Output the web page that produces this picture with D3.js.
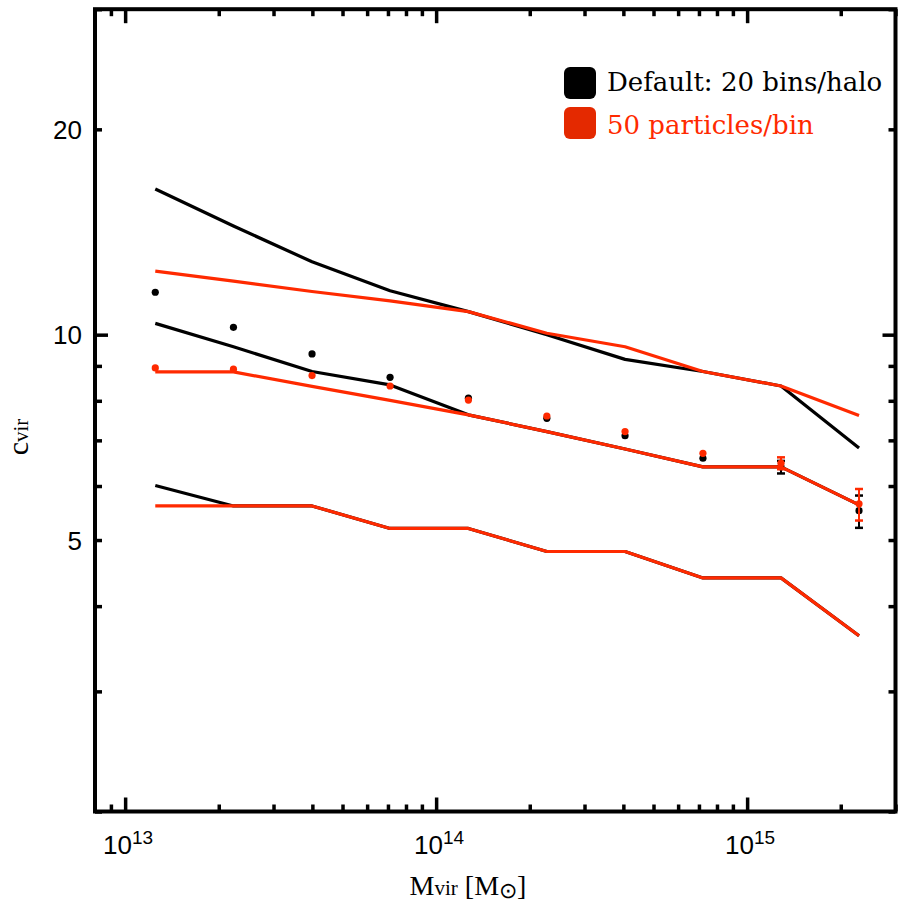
<!DOCTYPE html>
<html>
<head>
<meta charset="utf-8">
<script src="https://cdn.jsdelivr.net/npm/d3@7"></script>
<style>
  html, body { margin: 0; padding: 0; background: #fff; }
  svg { display: block; }
</style>
</head>
<body>
<svg id="chart" width="899" height="903"></svg>
<script>
// ---------------- data ----------------
const mass = [1.25e13, 2.23e13, 3.99e13, 7.11e13, 1.27e14, 2.27e14, 4.05e14, 7.21e14, 1.285e15, 2.29e15];

const defaultUpper   = [16.35, 14.43, 12.79, 11.60, 10.81, 10.00, 9.20, 8.83, 8.41, 6.82];
const defaultMid     = [10.39, 9.60, 8.83, 8.44, 7.63, 7.21, 6.80, 6.40, 6.40, 5.63];
const defaultLower   = [6.01, 5.61, 5.61, 5.20, 5.20, 4.81, 4.81, 4.40, 4.40, 3.62];
const defaultMean    = [11.54, 10.25, 9.37, 8.66, 8.07, 7.54, 7.11, 6.59, 6.40, 5.52];
const defaultErrLo   = [null, null, null, null, null, null, null, null, 6.26, 5.21];
const defaultErrHi   = [null, null, null, null, null, null, null, null, 6.53, 5.81];

const particlesUpper = [12.39, 11.98, 11.57, 11.21, 10.81, 10.05, 9.60, 8.83, 8.41, 7.61];
const particlesMid   = [8.82, 8.82, 8.40, 8.01, 7.63, 7.21, 6.80, 6.40, 6.40, 5.63];
const particlesLower = [5.61, 5.61, 5.61, 5.20, 5.20, 4.81, 4.81, 4.40, 4.40, 3.62];
const particlesMean  = [8.94, 8.90, 8.71, 8.41, 8.02, 7.60, 7.21, 6.70, 6.48, 5.65];
const particlesErrLo = [null, null, null, null, null, null, null, null, 6.35, 5.34];
const particlesErrHi = [null, null, null, null, null, null, null, null, 6.61, 5.94];

const xMajorTicks = [1e13, 1e14, 1e15];
const xMajorExp   = ["13", "14", "15"];
const xMinorTicks = [9e12, 2e13, 3e13, 4e13, 5e13, 6e13, 7e13, 8e13, 9e13,
                     2e14, 3e14, 4e14, 5e14, 6e14, 7e14, 8e14, 9e14, 2e15, 3e15];
const yMajorTicks = [10];
const yMinorTicks = [2, 3, 4, 5, 6, 7, 8, 9, 20, 30];
const yLabels     = [5, 10, 20];

const legendLabels = ["Default: 20 bins/halo", "50 particles/bin"];
const BLACK = "#000000";
const RED = "#ff2a00";
const RED_SQ = "#e42900";

// ---------------- scales ----------------
const svg = d3.select("#chart");
const L = 95, R = 895.5, T = 9.2, B = 811.5;
const x = d3.scaleLog().domain([8e12, 3e15]).range([L, R]);
const y = d3.scaleLog().domain([2, 30]).range([B, T]);

// ---------------- ticks (inward) ----------------
function tickAxis(gen, values, size, transform) {
  const g = svg.append("g").attr("transform", transform)
    .call(gen.tickValues(values).tickSize(size).tickFormat(""));
  g.select(".domain").remove();
  g.selectAll(".tick line").attr("stroke", "#000").attr("stroke-width", 3.5);
  return g;
}
tickAxis(d3.axisBottom(x), xMajorTicks, -14, `translate(0,${B})`);
tickAxis(d3.axisBottom(x), xMinorTicks, -7, `translate(0,${B})`);
tickAxis(d3.axisTop(x), xMajorTicks, -14, `translate(0,${T})`);
tickAxis(d3.axisTop(x), xMinorTicks, -7, `translate(0,${T})`);
tickAxis(d3.axisLeft(y), yMajorTicks, -13, `translate(${L},0)`);
tickAxis(d3.axisLeft(y), yMinorTicks, -7, `translate(${L},0)`);
tickAxis(d3.axisRight(y), yMajorTicks, -13, `translate(${R},0)`);
tickAxis(d3.axisRight(y), yMinorTicks, -7, `translate(${R},0)`);

// frame
svg.append("rect").attr("x", L).attr("y", T).attr("width", R - L).attr("height", B - T)
  .attr("fill", "none").attr("stroke", "#000").attr("stroke-width", 4);

// tick labels
const xl = svg.append("g").attr("font-family", "Liberation Sans, Arial, sans-serif").attr("fill", "#000");
xMajorTicks.forEach((v, i) => {
  const t = xl.append("text").attr("x", x(v) + 3).attr("y", 854)
    .attr("text-anchor", "middle").attr("font-size", 26);
  t.append("tspan").text("10");
  t.append("tspan").attr("font-size", 19).attr("dy", -10).text(xMajorExp[i]);
});
yLabels.forEach(v => {
  xl.append("text").attr("x", 82).attr("y", y(v) + 9.5)
    .attr("text-anchor", "end").attr("font-size", 26).text(v);
});

// axis titles
const xt = svg.append("text").attr("x", 468).attr("y", 895)
  .attr("text-anchor", "middle").attr("font-family", "Liberation Serif, Times New Roman, serif")
  .attr("font-size", 28).attr("fill", "#000");
xt.append("tspan").text("M");
xt.append("tspan").attr("font-size", 21).text("vir");
xt.append("tspan").text(" [M");
xt.append("tspan").attr("font-size", 22).attr("dy", 3).text("⊙");
xt.append("tspan").attr("dy", -3).text("]");

const yt = svg.append("text").attr("transform", "translate(28,437) rotate(-90)")
  .attr("text-anchor", "middle").attr("font-family", "Liberation Serif, Times New Roman, serif")
  .attr("font-size", 30).attr("fill", "#000");
yt.append("tspan").text("c");
yt.append("tspan").attr("font-size", 21).text("vir");

// ---------------- marks ----------------
const line = d3.line().x((d, i) => x(mass[i])).y(d => y(d));
const plot = svg.append("g");

function drawSeries(lines, mean, lo, hi, color) {
  lines.forEach(arr => {
    plot.append("path").datum(arr).attr("d", line)
      .attr("fill", "none").attr("stroke", color).attr("stroke-width", 3.2)
      .attr("stroke-linejoin", "round");
  });
  mean.forEach((v, i) => {
    if (lo[i] != null) {
      const cx = x(mass[i]);
      plot.append("line").attr("x1", cx).attr("x2", cx).attr("y1", y(lo[i])).attr("y2", y(hi[i]))
        .attr("stroke", color).attr("stroke-width", 2);
      [lo[i], hi[i]].forEach(e => {
        plot.append("line").attr("x1", cx - 4).attr("x2", cx + 4).attr("y1", y(e)).attr("y2", y(e))
          .attr("stroke", color).attr("stroke-width", 2.5);
      });
    }
    plot.append("circle").attr("cx", x(mass[i])).attr("cy", y(v)).attr("r", 3.6).attr("fill", color);
  });
}
drawSeries([defaultUpper, defaultMid, defaultLower], defaultMean, defaultErrLo, defaultErrHi, BLACK);
drawSeries([particlesUpper, particlesMid, particlesLower], particlesMean, particlesErrLo, particlesErrHi, RED);

// ---------------- legend ----------------
const lg = svg.append("g");
[[BLACK, BLACK], [RED_SQ, RED]].forEach((c, i) => {
  lg.append("rect").attr("x", 564).attr("y", 67 + i * 40).attr("width", 32).attr("height", 32)
    .attr("rx", 6).attr("fill", c[0]);
  lg.append("text").attr("x", 607).attr("y", 91 + i * 42.5)
    .attr("font-family", "DejaVu Serif, Georgia, serif").attr("font-size", 26)
    .attr("fill", c[1]).text(legendLabels[i]);
});
</script>
</body>
</html>
